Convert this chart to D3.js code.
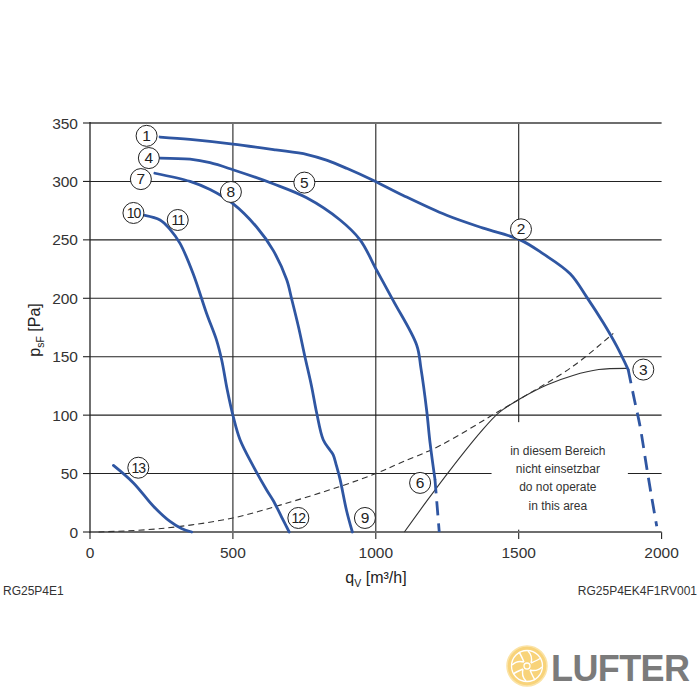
<!DOCTYPE html>
<html><head><meta charset="utf-8">
<script src="https://cdn.jsdelivr.net/npm/d3@7"></script>
<style>body{margin:0;background:#fff}svg{display:block;font-family:"Liberation Sans",Arial,sans-serif}</style>
</head><body><svg id="c" width="700" height="700"></svg>
<script>
// ---- data ----
const xTicks = [0, 500, 1000, 1500, 2000];
const yTicks = [0, 50, 100, 150, 200, 250, 300, 350];
const curve123 = [[245,338],[350,336],[500,332],[650,327],[760,323],[830,318],[900,311],[990,301],[1096,288],[1248,271],[1376,260],[1505,250],[1586,238],[1680,221],[1738,201],[1796,179],[1843,159],[1883,139]];
const curve123Dash = [[1883,139],[1905,113],[1925,90],[1948,55],[1965,30],[1983,5]];
const curve456 = [[245,320],[350,319],[420,316],[500,310],[641,298],[758,286],[875,267],[945,250],[1003,224],[1061,198],[1143,160],[1158,140],[1178,104],[1190,76],[1207,45]];
const curve456Dash = [[1207,45],[1213,27],[1222,0]];
const curve789 = [[227,307],[350,300],[420,293],[500,281],[583,261],[641,241],[688,216],[706,199],[730,175],[752,150],[775,125],[793,102],[816,79],[840,70],[851,66],[862,57],[875,45],[898,18],[918,0]];
const curve101112 = [[192,271],[245,267],[280,259],[315,247],[361,221],[408,187],[443,164],[461,147],[480,122],[501,99],[525,79],[572,56],[618,36],[641,27],[670,13],[697,0]];
const curve13 = [[82,57],[152,42],[222,22],[280,9],[320,3],[356,0]];
const systemCurve = [[30,0],[250,3],[500,12],[665,23],[875,39],[1000,50],[1085,59],[1225,74],[1435,104],[1505,114],[1691,142],[1831,170]];
const limitCurve = [[1100,0],[1180,27],[1260,53],[1365,85],[1430,102],[1505,114],[1600,126],[1690,134],[1780,139],[1880,140]];
const pointLabels = ["1","2","3","4","5","6","7","8","9","10","11","12","13"];
const pointQ = [198,1508,1936,206,750,1155,178,493,962,152,307,729,169];
const pointP = [339,259,139,320,299,42,302,291,12,273,267,12,55];
const noteLines = ["in diesem Bereich","nicht einsetzbar","do not operate","in this area"];
const noteBox = {q0:1405, q1:1882, p0:2, p1:94};
const noteQ = 1637;

// ---- chart ----
const svg = d3.select("#c");
const x = d3.scaleLinear().domain([0,2000]).range([90,661.6]);
const y = d3.scaleLinear().domain([0,350]).range([532,123]);
const g = svg.append("g");

// grid
g.selectAll(".hg").data(yTicks.filter(v=>v>0&&v<350)).enter().append("line")
  .attr("x1",x(0)).attr("x2",x(2000)).attr("y1",d=>y(d)).attr("y2",d=>y(d))
  .attr("stroke","#222").attr("stroke-width",1.1);
g.selectAll(".vg").data(xTicks.filter(v=>v>0&&v<2000)).enter().append("line")
  .attr("x1",d=>x(d)).attr("x2",d=>x(d)).attr("y1",y(0)).attr("y2",y(350))
  .attr("stroke","#222").attr("stroke-width",1.1);
g.append("line").attr("x1",x(0)).attr("x2",x(2000)).attr("y1",y(350)).attr("y2",y(350)).attr("stroke","#6e6e6e").attr("stroke-width",2);
g.selectAll(".yt").data(yTicks).enter().append("line")
  .attr("x1",x(0)-7).attr("x2",x(0)).attr("y1",d=>y(d)).attr("y2",d=>y(d)).attr("stroke","#222").attr("stroke-width",1.1);
g.selectAll(".xt").data(xTicks).enter().append("line")
  .attr("x1",d=>x(d)).attr("x2",d=>x(d)).attr("y1",y(0)).attr("y2",y(0)+7).attr("stroke","#222").attr("stroke-width",1.1);

// white note box
g.append("rect").attr("x",x(noteBox.q0)).attr("y",y(noteBox.p1))
  .attr("width",x(noteBox.q1)-x(noteBox.q0)).attr("height",y(noteBox.p0)-y(noteBox.p1)).attr("fill","#fff");
g.append("line").attr("x1",x(0)).attr("x2",x(2000)).attr("y1",y(0)).attr("y2",y(0)).attr("stroke","#6e6e6e").attr("stroke-width",2);
g.append("line").attr("x1",x(0)).attr("x2",x(0)).attr("y1",y(0)+1).attr("y2",y(350)-1).attr("stroke","#222").attr("stroke-width",1.3);

// tick labels
g.selectAll(".yl").data(yTicks).enter().append("text")
  .attr("x",x(0)-12).attr("y",d=>y(d)+5.5).attr("text-anchor","end").attr("font-size",15.5).attr("fill","#333").text(d=>d);
g.selectAll(".xl").data(xTicks).enter().append("text")
  .attr("x",d=>x(d)).attr("y",y(0)+26).attr("text-anchor","middle").attr("font-size",15.5).attr("fill","#333").text(d=>d);

// note text
g.selectAll(".nt").data(noteLines).enter().append("text")
  .attr("x",x(noteQ)).attr("y",(d,i)=>455+i*18.2).attr("text-anchor","middle").attr("font-size",12).attr("fill","#333").text(d=>d);

// curves
const line = d3.line().x(d=>x(d[0])).y(d=>y(d[1])).curve(d3.curveCatmullRom.alpha(0.5));
const blue = "#2f56a2";
g.append("path").attr("d",line(systemCurve)).attr("fill","none").attr("stroke","#333").attr("stroke-width",1.1).attr("stroke-dasharray","6,4");
g.append("path").attr("d",line(limitCurve)).attr("fill","none").attr("stroke","#333").attr("stroke-width",1.1);
[curve123,curve456,curve789,curve101112,curve13].forEach(c=>{
  g.append("path").attr("d",line(c)).attr("fill","none").attr("stroke",blue).attr("stroke-width",2.8).attr("stroke-linecap","round");
});
[curve123Dash,curve456Dash].forEach(c=>{
  g.append("path").attr("d",line(c)).attr("fill","none").attr("stroke",blue).attr("stroke-width",2.8).attr("stroke-dasharray","14,8");
});

// circled labels
const lab = g.selectAll(".pl").data(pointLabels).enter().append("g")
  .attr("transform",(d,i)=>`translate(${x(pointQ[i])},${y(pointP[i])})`);
lab.append("circle").attr("r",10.5).attr("fill","#fff").attr("stroke","#222").attr("stroke-width",1);
lab.append("text").attr("text-anchor","middle").attr("y",5).attr("font-size",d=>d.length>1?14:15.5).attr("fill","#222")
  .attr("letter-spacing",d=>d.length>1?-1:0).text(d=>d);

// axis titles
const yt = svg.append("text").attr("transform","translate(40,330) rotate(-90)").attr("text-anchor","middle").attr("font-size",16).attr("fill","#222");
yt.append("tspan").text("p");
yt.append("tspan").attr("font-size",10.5).attr("dy",4).text("sF");
yt.append("tspan").attr("dy",-4).text(" [Pa]");
const xt = svg.append("text").attr("x",376).attr("y",583).attr("text-anchor","middle").attr("font-size",16).attr("fill","#222");
xt.append("tspan").text("q");
xt.append("tspan").attr("font-size",10.5).attr("dy",4).text("V");
xt.append("tspan").attr("dy",-4).text(" [m³/h]");

// footers
svg.append("text").attr("x",3).attr("y",595).attr("font-size",12).attr("fill","#333").text("RG25P4E1");
svg.append("text").attr("x",697).attr("y",595).attr("text-anchor","end").attr("font-size",12).attr("fill","#333").text("RG25P4EK4F1RV001");

// logo
const lg = svg.append("g").attr("transform","translate(527,666)");
lg.append("circle").attr("r",20).attr("fill","#f8d37a").attr("stroke","#fbe3a6").attr("stroke-width",1.5);
lg.append("circle").attr("r",15.5).attr("fill","none").attr("stroke","#fff").attr("stroke-width",1.3);
lg.append("circle").attr("r",3).attr("fill","none").attr("stroke","#fff").attr("stroke-width",1.3);
[0,90,180,270].forEach(a=>{
  lg.append("path").attr("transform",`rotate(${a})`).attr("d","M4,-3 Q6,-10 1,-15 M4,-3 Q11,-6 14,-8")
    .attr("fill","none").attr("stroke","#fff").attr("stroke-width",1.4);
});
svg.append("text").attr("x",551).attr("y",681).attr("font-size",36).attr("font-weight","bold").attr("fill","#7b7b7b")
  .attr("letter-spacing",-0.6).text("LUFTER");
</script></body></html>
